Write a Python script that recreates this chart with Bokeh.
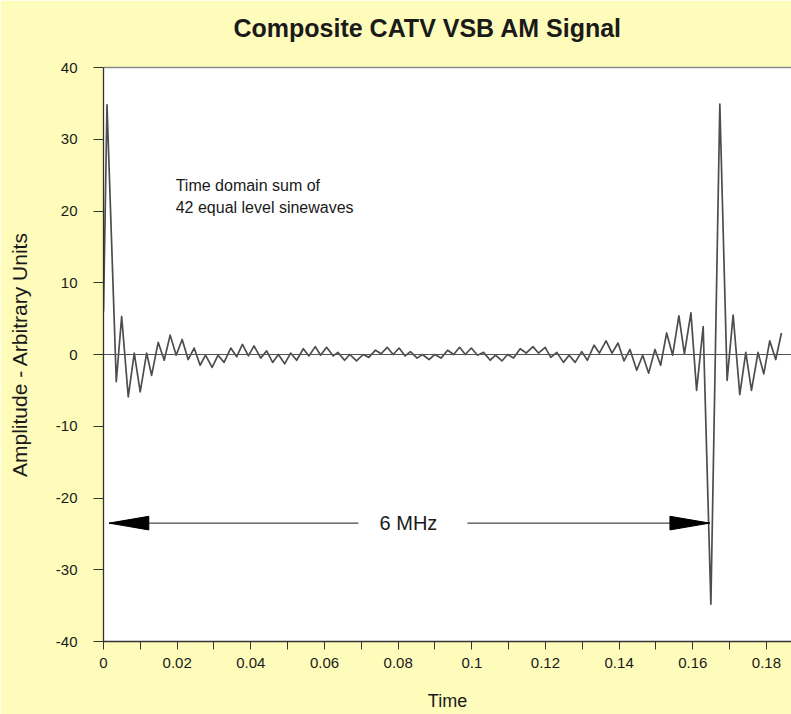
from bokeh.plotting import figure
from bokeh.models import Range1d, FixedTicker, Span, Label, LinearAxis
from bokeh.embed import file_html
from bokeh.resources import INLINE

# ---------------- data ----------------
title_text = "Composite CATV VSB AM Signal"
x_label = "Time"
y_label = "Amplitude - Arbitrary Units"
note_lines = ["Time domain sum of", "42 equal level sinewaves"]
span_text = "6 MHz"

x_ticks = [0.0, 0.02, 0.04, 0.06, 0.08, 0.10, 0.12, 0.14, 0.16, 0.18]
x_tick_labels = ["0", "0.02", "0.04", "0.06", "0.08", "0.1", "0.12", "0.14", "0.16", "0.18"]
x_minor_ticks = [0.01, 0.03, 0.05, 0.07, 0.09, 0.11, 0.13, 0.15, 0.17]
y_ticks = [-40, -30, -20, -10, 0, 10, 20, 30, 40]
y_tick_labels = ["-40", "-30", "-20", "-10", "0", "10", "20", "30", "40"]

# waveform: peaks / troughs
time = [
    0.0, 0.00095, 0.00347, 0.00493, 0.00672, 0.00835, 0.00997, 0.01171, 0.01306,
    0.01485, 0.01648, 0.01810, 0.01973, 0.02136, 0.02298, 0.02461, 0.02623,
    0.02770, 0.02949, 0.03111, 0.03274, 0.03455, 0.03618, 0.03772, 0.03935,
    0.04087, 0.04268, 0.04431, 0.04593, 0.04748, 0.04919, 0.05081, 0.05244,
    0.05425, 0.05577, 0.05751, 0.05894, 0.06057, 0.06238, 0.06363, 0.06545,
    0.06688, 0.06870, 0.07051, 0.07203, 0.07385, 0.07539, 0.07702, 0.07864,
    0.08027, 0.08190, 0.08333, 0.08515, 0.08659, 0.08840, 0.08992, 0.09165,
    0.09344, 0.09507, 0.09669, 0.09824, 0.09986, 0.10157, 0.10320, 0.10501,
    0.10645, 0.10818, 0.10970, 0.11133, 0.11314, 0.11477, 0.11659, 0.11810,
    0.11992, 0.12146, 0.12309, 0.12488, 0.12642, 0.12805, 0.12986, 0.13138,
    0.13320, 0.13463, 0.13645, 0.13808, 0.13970, 0.14133, 0.14295, 0.14477,
    0.14640, 0.14802, 0.14973, 0.15127, 0.15290, 0.15453, 0.15623, 0.15772,
    0.15949, 0.16103, 0.16282, 0.16491, 0.16734, 0.16932, 0.17095, 0.17276,
    0.17439, 0.17593, 0.17772, 0.17927, 0.18089, 0.18252, 0.18407,
]
amplitude = [
    6.0, 34.8, -3.8, 5.3, -5.9, 0.2, -5.2, 0.2, -2.9,
    1.7, -0.8, 2.7, -0.1, 2.1, -0.7, 0.9, -1.5,
    -0.1, -1.8, -0.1, -1.1, 0.9, -0.3, 1.4, -0.2,
    1.2, -0.5, 0.5, -1.1, 0.0, -1.3, 0.2, -0.8,
    0.8, -0.2, 1.1, -0.1, 1.0, -0.2, 0.3, -0.8,
    0.0, -0.9, 0.0, -0.4, 0.6, 0.1, 1.0, 0.0,
    0.9, -0.2, 0.4, -0.5, 0.0, -0.7, 0.0, -0.5,
    0.6, 0.0, 1.0, 0.0, 0.9, -0.1, 0.3, -0.8,
    -0.1, -0.9, 0.0, -0.5, 0.8, 0.2, 1.1, 0.2,
    1.0, -0.4, 0.3, -1.1, -0.1, -1.1, 0.4, -0.8,
    1.3, 0.2, 1.9, 0.2, 1.6, -0.9, 0.7, -2.2,
    -0.1, -2.6, 0.7, -1.5, 3.0, -0.1, 5.4, 0.1,
    5.8, -5.0, 3.9, -34.8, 34.9, -3.6, 5.5, -5.6,
    0.3, -5.0, 0.3, -2.7, 1.9, -0.7, 3.0,
]

# "6 MHz" dimension arrow (level and ends)
arrow_level = -23.5
arrow_left = 0.0015
arrow_right = 0.1646
arrow_gap = (0.0692, 0.0988)
span_text_x = 0.0828
note_x = 0.0196
note_y = [23.6, 20.5]

# ---------------- styling ----------------
FONT = "Liberation Sans"
PAGE_BG = "#FEFCBA"
INK = "#1a1a1a"
WAVE = "#4d4d4d"

p = figure(
    width=791, height=714,
    output_backend="svg", toolbar_location=None,
    x_range=Range1d(0, 0.1868), y_range=Range1d(-40, 40),
    min_border_left=103, min_border_right=0,
    min_border_top=67, min_border_bottom=73,
)
p.background_fill_color = "white"
p.border_fill_color = PAGE_BG
p.outline_line_color = None
p.xgrid.visible = False
p.ygrid.visible = False

xa = p.below[0]
ya = p.left[0]

# top frame edge: an axis with one invisible, unlabelled tick that spaces the title upward
spacer_tick = 0.05
top_axis = LinearAxis(ticker=FixedTicker(ticks=[spacer_tick], minor_ticks=[]),
                      major_label_overrides={spacer_tick: ""},
                      axis_line_color="#8a8a8a", axis_line_width=1.5,
                      major_tick_line_color=None,
                      major_tick_in=0, major_tick_out=25,
                      minor_tick_in=0, minor_tick_out=0,
                      major_label_standoff=0)
p.add_layout(top_axis, "above")

# title
p.title.text = title_text
p.title.text_font = FONT
p.title.text_font_size = "25px"
p.title.text_font_style = "bold"
p.title.text_color = INK
p.title.align = "left"
p.title.offset = 130
p.title.standoff = 2

# x axis
xa.ticker = FixedTicker(ticks=x_ticks, minor_ticks=x_minor_ticks)
xa.major_label_overrides = {t: s for t, s in zip(x_ticks, x_tick_labels)}
xa.axis_label = x_label
xa.axis_label_text_font = FONT
xa.axis_label_text_font_size = "18px"
xa.axis_label_text_font_style = "normal"
xa.axis_label_text_color = INK
xa.axis_label_standoff = 20
xa.major_label_text_font = FONT
xa.major_label_text_font_size = "15px"
xa.major_label_text_color = INK
xa.major_label_standoff = 8
xa.axis_line_color = "#333333"
xa.axis_line_width = 1.3
xa.major_tick_line_color = "#333333"
xa.minor_tick_line_color = "#333333"
xa.major_tick_in = 0
xa.major_tick_out = 8
xa.minor_tick_in = 0
xa.minor_tick_out = 8

# y axis
ya.ticker = FixedTicker(ticks=y_ticks, minor_ticks=[])
ya.major_label_overrides = {t: s for t, s in zip(y_ticks, y_tick_labels)}
ya.axis_label = y_label
ya.axis_label_text_font = FONT
ya.axis_label_text_font_size = "21px"
ya.axis_label_text_font_style = "normal"
ya.axis_label_text_color = INK
ya.axis_label_standoff = 22
ya.major_label_text_font = FONT
ya.major_label_text_font_size = "15px"
ya.major_label_text_color = INK
ya.major_label_standoff = 16
ya.axis_line_color = "#333333"
ya.axis_line_width = 1.3
ya.major_tick_line_color = "#333333"
ya.major_tick_in = 0
ya.major_tick_out = 10

# zero line
p.add_layout(Span(location=0, dimension="width", line_color="#555555", line_width=1))

# waveform
p.line(time, amplitude, line_color=WAVE, line_width=1.7, line_join="round")

# dimension arrow
p.segment(x0=[arrow_left, arrow_gap[1]], y0=[arrow_level, arrow_level],
          x1=[arrow_gap[0], arrow_right], y1=[arrow_level, arrow_level],
          line_color=INK, line_width=1)
head_len = 0.0108
head_half = 0.95
p.patches(
    xs=[[arrow_left, arrow_left + head_len, arrow_left + head_len],
        [arrow_right, arrow_right - head_len, arrow_right - head_len]],
    ys=[[arrow_level, arrow_level + head_half, arrow_level - head_half],
        [arrow_level, arrow_level + head_half, arrow_level - head_half]],
    fill_color="black", line_color="black", line_width=1,
)
p.add_layout(Label(x=span_text_x, y=arrow_level, text=span_text,
                   text_font=FONT, text_font_size="20px", text_color=INK,
                   text_align="center", text_baseline="middle"))

# note
for line_text, ny in zip(note_lines, note_y):
    p.add_layout(Label(x=note_x, y=ny, text=line_text,
                       text_font=FONT, text_font_size="16px", text_color=INK,
                       text_align="left", text_baseline="middle"))

open("out.html", "w").write(file_html(p, INLINE))
